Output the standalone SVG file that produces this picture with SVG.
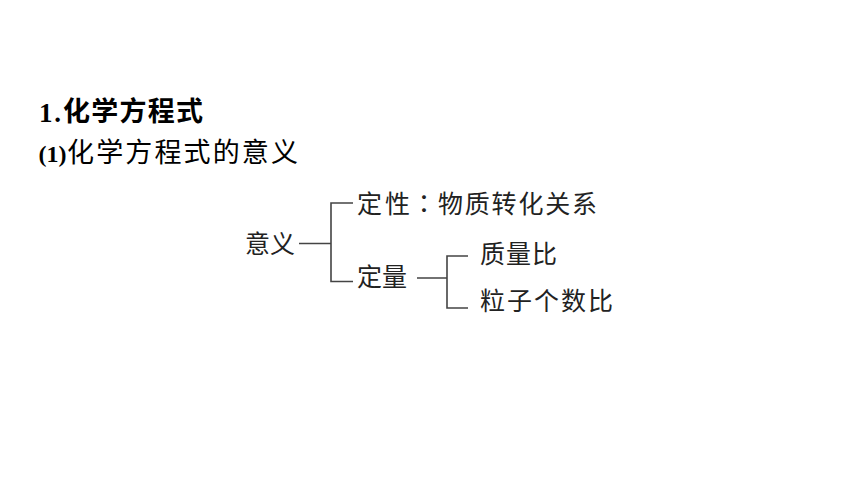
<svg xmlns="http://www.w3.org/2000/svg" width="860" height="484" viewBox="0 0 860 484">
<style>
.lat{font-family:"Liberation Serif","Times New Roman",serif;font-weight:bold;font-size:27px;fill:#000}
.hz{font-family:"Noto Sans CJK SC","Noto Sans",sans-serif;font-size:27px;fill:#000}
.hb{font-weight:bold}
.n{font-family:"Noto Sans CJK SC","Noto Sans",sans-serif;font-size:25px;fill:#222}
.tc{font-family:"Noto Sans CJK TC","Noto Sans CJK SC",sans-serif}
.c{fill:none;stroke:#444;stroke-width:1.6}
</style>
<rect width="860" height="484" fill="#fff"/>
<g id="heading1">
<text y="122"><tspan class="lat" x="39" textLength="22" lengthAdjust="spacing">1.</tspan><tspan class="hz hb" x="63" y="121" textLength="140" lengthAdjust="spacing">化学方程式</tspan></text>
</g>
<g id="heading2">
<text y="162"><tspan class="lat" x="38.5" style="font-size:24px">(1)</tspan><tspan class="hz" x="67" textLength="231" lengthAdjust="spacing">化学方程式的意义</tspan></text>
</g>
<g id="connectors">
<path class="c" d="M299,243.5 H331 M353,203 H331 V281.5 H353"/>
<path class="c" d="M417,278 H447 M468,256 H447 V308 H468"/>
</g>
<g id="node-yiyi"><text class="n" x="245" y="253" textLength="50" lengthAdjust="spacing">意义</text></g>
<g id="node-dingxing"><text class="n" y="213"><tspan x="357" textLength="53" lengthAdjust="spacing">定性</tspan><tspan class="tc" x="411.5">：</tspan><tspan x="438" textLength="159" lengthAdjust="spacing">物质转化关系</tspan></text></g>
<g id="node-dingliang"><text class="n" x="357" y="286" textLength="50" lengthAdjust="spacing">定量</text></g>
<g id="node-zhiliangbi"><text class="n" x="480" y="263" textLength="77" lengthAdjust="spacing">质量比</text></g>
<g id="node-lizi"><text class="n" x="480" y="310" textLength="133" lengthAdjust="spacing">粒子个数比</text></g>
</svg>
